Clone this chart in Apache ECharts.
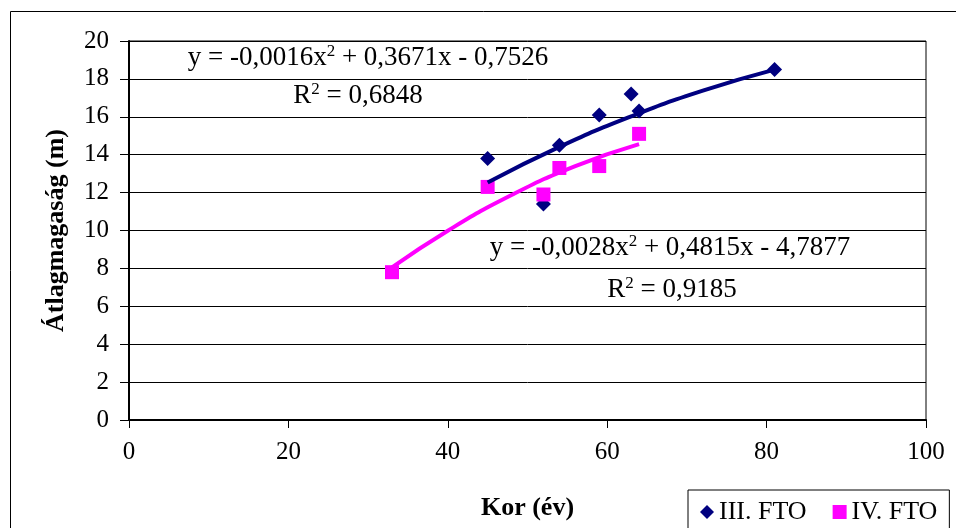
<!DOCTYPE html>
<html>
<head>
<meta charset="utf-8">
<script src="https://cdn.jsdelivr.net/npm/echarts@6/dist/echarts.min.js"></script>
<style>
  html, body { margin: 0; padding: 0; background: #fff; }
  #main { width: 956px; height: 528px; }
</style>
</head>
<body>
<div id="main"></div>
<script>
// measured points (Kor, Átlagmagaság)
var fto3Points = [[45, 13.8], [52, 11.4], [54, 14.5], [59, 16.1], [63, 17.2], [64, 16.3], [81, 18.5]];
var fto4Points = [[33, 7.8], [45, 12.3], [52, 11.9], [54, 13.3], [59, 13.4], [64, 15.1]];

// trend curves, values
var fto3Trend = [[45, 12.53], [54, 14.41], [63, 16.02], [72, 17.38], [81, 18.49]];
var fto4Trend = [[33, 8.05], [40, 9.99], [48, 11.87], [56, 13.40], [64, 14.56]];

var xTicks = [0, 20, 40, 60, 80, 100];
var yTicks = [0, 2, 4, 6, 8, 10, 12, 14, 16, 18, 20];

var serif = "'Liberation Serif', 'Times New Roman', serif";
var navy = '#000080';
var pink = '#ff00ff';

var chart = echarts.init(document.getElementById('main'));

function eqText(x, y, parts) {
  return {
    type: 'text',
    x: x,
    y: y,
    style: {
      text: parts,
      align: 'center',
      verticalAlign: 'middle',
      fill: '#000',
      font: '27px ' + serif,
      rich: {
        n: { fontSize: 27, fontFamily: serif, lineHeight: 30, fill: '#000' },
        s: { fontSize: 17, fontFamily: serif, lineHeight: 14, verticalAlign: 'top', fill: '#000' }
      }
    },
    z: 100
  };
}

var option = {
  animation: false,
  backgroundColor: '#fff',
  textStyle: { fontFamily: serif, color: '#000' },
  grid: {
    left: 129,
    right: 30,
    top: 41,
    bottom: 108,
    show: true,
    borderColor: '#000',
    borderWidth: 1
  },
  legend: {
    left: 688,
    top: 490,
    padding: [9, 12, 12, 12],
    borderColor: '#000',
    borderWidth: 1,
    backgroundColor: '#fff',
    itemWidth: 14,
    itemHeight: 14,
    itemGap: 26,
    textStyle: { fontSize: 26, fontFamily: serif, color: '#000' },
    data: [
      { name: 'III. FTO', icon: 'diamond' },
      { name: 'IV. FTO', icon: 'rect' }
    ]
  },
  xAxis: {
    type: 'value',
    min: 0,
    max: 100,
    interval: 20,
    name: 'Kor (év)',
    nameLocation: 'middle',
    nameGap: 75,
    nameTextStyle: { fontSize: 26, fontWeight: 'bold', fontFamily: serif, color: '#000' },
    axisLine: { show: true, lineStyle: { color: '#000', width: 2 } },
    axisTick: { show: true, length: 8, lineStyle: { color: '#000' } },
    axisLabel: { fontSize: 25, fontFamily: serif, color: '#000', margin: 20 },
    splitLine: { show: false }
  },
  yAxis: {
    type: 'value',
    min: 0,
    max: 20,
    interval: 2,
    name: 'Átlagmagaság (m)',
    nameLocation: 'middle',
    nameGap: 60,
    nameTextStyle: { fontSize: 26, fontWeight: 'bold', fontFamily: serif, color: '#000' },
    axisLine: { show: true, lineStyle: { color: '#000', width: 2 } },
    axisTick: { show: true, length: 9, lineStyle: { color: '#000' } },
    axisLabel: { fontSize: 25, fontFamily: serif, color: '#000', margin: 20 },
    splitLine: { show: true, lineStyle: { color: '#000', width: 1 } }
  },
  series: [
    {
      name: 'III. FTO',
      type: 'scatter',
      symbol: 'diamond',
      symbolSize: 15,
      itemStyle: { color: navy, opacity: 1 },
      data: fto3Points,
      z: 2
    },
    {
      name: 'IV. FTO',
      type: 'scatter',
      symbol: 'rect',
      symbolSize: 14,
      itemStyle: { color: pink, opacity: 1 },
      data: fto4Points,
      z: 3
    },
    {
      name: 'fto3 trend',
      type: 'line',
      smooth: true,
      showSymbol: false,
      lineStyle: { color: navy, width: 4 },
      data: fto3Trend,
      z: 4
    },
    {
      name: 'fto4 trend',
      type: 'line',
      smooth: true,
      showSymbol: false,
      lineStyle: { color: pink, width: 4 },
      data: fto4Trend,
      z: 5
    }
  ],
  graphic: [
    {
      type: 'rect',
      shape: { x: 10.5, y: 11.5, width: 1000, height: 600 },
      style: { fill: 'none', stroke: '#000', lineWidth: 1 },
      silent: true,
      z: -1
    },
    eqText(368, 58, '{n|y = -0,0016x}{s|2}{n| + 0,3671x - 0,7526}'),
    eqText(358, 96, '{n|R}{s|2}{n| = 0,6848}'),
    eqText(670, 248, '{n|y = -0,0028x}{s|2}{n| + 0,4815x - 4,7877}'),
    eqText(672, 290, '{n|R}{s|2}{n| = 0,9185}')
  ]
};

chart.setOption(option);
</script>
</body>
</html>
